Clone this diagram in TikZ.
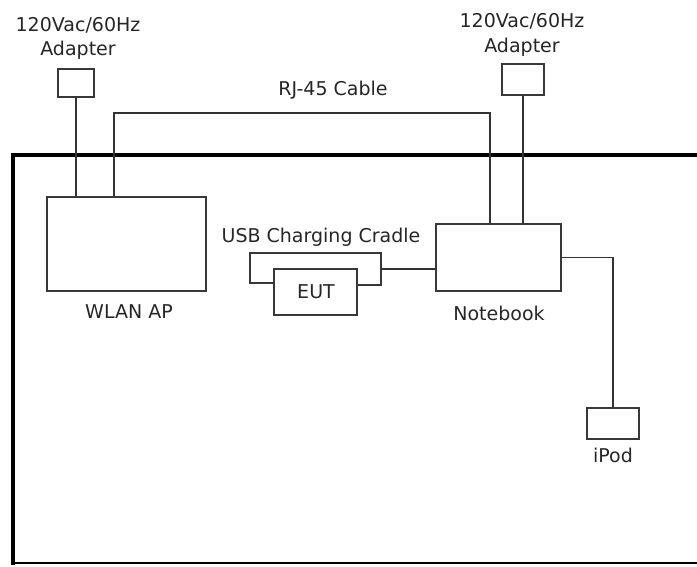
\documentclass[tikz,border=0pt]{standalone}
\usepackage{fontspec}
\setmainfont{DejaVu Sans}
\begin{document}
\begin{tikzpicture}[x=1pt,y=-1pt,
  box/.style={draw=black!78, line width=1.8pt, rectangle, inner sep=0pt},
  wire/.style={draw=black!80, line width=1.5pt},
  lbl/.style={anchor=base, inner sep=0pt, text=black!85, font=\fontsize{19}{23}\selectfont},
  tableline/.style={draw=black, line width=4pt}]
\useasboundingbox (0,0) rectangle (697,566);
% table outline
\draw[tableline] (13,565) -- (13,155) -- (700,155);
\draw[draw=black, line width=2.6pt] (11,563) -- (700,563);
% boxes
\node[box, minimum width=36pt, minimum height=28pt] (ad1) at (76,83) {};
\node[box, minimum width=42pt, minimum height=31pt] (ad2) at (523,79.5) {};
\node[box, minimum width=159pt, minimum height=94pt] (wlan) at (126.5,244) {};
\node[box, minimum width=125pt, minimum height=67pt] (nb) at (498.5,257.5) {};
\node[box, minimum width=83pt, minimum height=46pt] (eut) at (315.5,292) {};
\node[box, minimum width=52pt, minimum height=31pt] (ipod) at (613,423.5) {};
% cradle
\coordinate (crl) at (250,253);
\coordinate (crr) at (381,253);
\coordinate (cre) at (381,269);
\draw[box] (eut.west |- 0,283) -- (crl |- 0,283) -- (crl) -- (crr) -- (crr |- 0,285) -- (eut.east |- 0,285);
% labels
\node[lbl] (t1a) at (78,31) {120Vac/60Hz};
\node[lbl] (t1b) at (78,55) {Adapter};
\node[lbl] (t2a) at (522,27) {120Vac/60Hz};
\node[lbl] (t2b) at (522,52) {Adapter};
\node[lbl] (trj) at (333,95) {RJ-45 Cable};
\node[lbl] (tusb) at (321,242) {USB Charging Cradle};
\node[lbl] (teut) at (316,298) {EUT};
\node[lbl] (twlan) at (129,318) {WLAN AP};
\node[lbl] (tnb) at (499,320) {Notebook};
\node[lbl] (tipod) at (613,462) {iPod};
% connectors
\draw[wire] (ad1.south) -- (ad1.south |- wlan.north);
\coordinate (rj1) at (114,113);
\coordinate (rj2) at (490,113);
\draw[wire] (rj1 |- wlan.north) -- (rj1) -- (rj2) -- (rj2 |- nb.north);
\draw[wire] (ad2.south) -- (ad2.south |- nb.north);
\draw[wire] (cre) -- (cre -| nb.west);
\draw[wire] (nb.east) -| (ipod.north);
\end{tikzpicture}
\end{document}
